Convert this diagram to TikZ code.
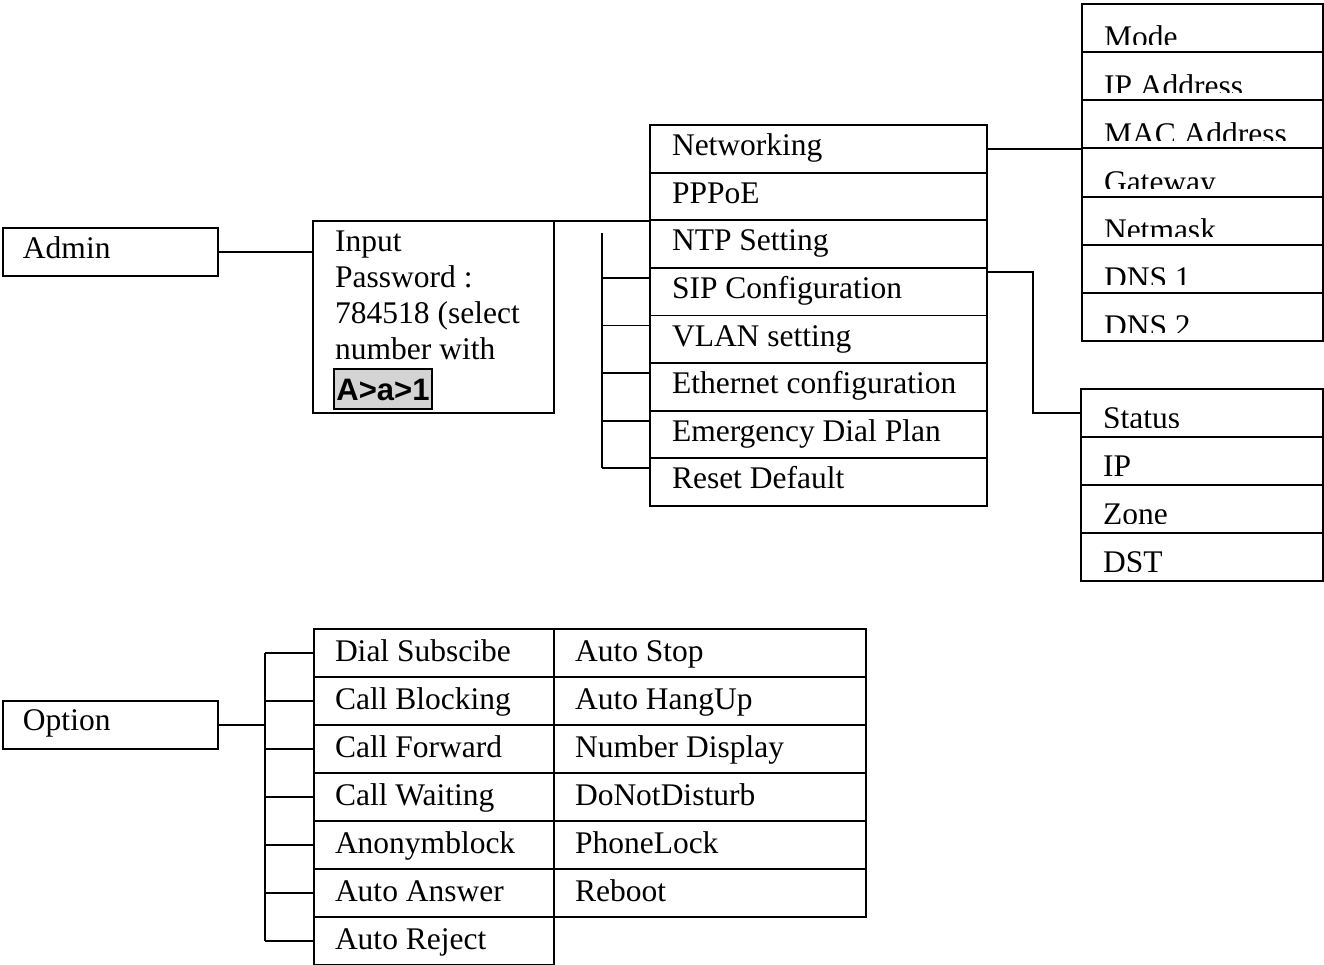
\documentclass[tikz,border=0pt]{standalone}
\usepackage{fontspec}
\setmainfont{Liberation Serif}
\newfontfamily\keyfont{Liberation Sans}
\newcommand\mainfnt{\fontsize{31.5}{36.3}\selectfont}
\definecolor{keygray}{RGB}{212,212,212}
\tikzset{
  box/.style={draw, line width=1.9pt, inner sep=0pt, outer sep=0pt, anchor=north west},
  lbl/.style={anchor=base west, inner sep=0pt, outer sep=0pt, font=\mainfnt},
  conn/.style={line width=1.9pt},
}
\begin{document}
\begin{tikzpicture}[x=1pt,y=-1pt]
\useasboundingbox (0,0) rectangle (1324,965);

% Admin
\node[box, minimum width=215, minimum height=48] (admin) at (3,228) {};
\node[lbl] (admint) at ([xshift=20pt,yshift=-31pt]admin.north west) {Admin};

% Input password box
\node[box, minimum width=241, minimum height=192] (inp) at (313,221) {};
\node[anchor=north west, inner sep=0pt, font=\mainfnt, align=left] (inpt) at (335,230.2)
  {Input\\Password :\\784518 (select\\number with};
\node[box, fill=keygray, minimum width=98, minimum height=40,
      font={\keyfont\bfseries\fontsize{31}{36}\selectfont},
      text height=22.5pt, text depth=0pt] (key) at (334,369) {A>a>1};

% Networking column
\foreach \t [count=\i from 0] in {Networking,PPPoE,NTP Setting,SIP Configuration,VLAN setting,Ethernet configuration,Emergency Dial Plan,Reset Default}{
  \node[box, minimum width=337, minimum height=47.625] (n\i) at (650,{125+\i*47.625}) {};
  \node[lbl] (n\i t) at ([xshift=22pt,yshift=-30.5pt]n\i.north west) {\t};
}

% Mode box (text clipped as in the reference)
\foreach \t [count=\i from 0] in {Mode,IP Address,MAC Address,Gateway,Netmask,DNS 1,DNS 2}{
  \node[box, minimum width=241, minimum height=48.14] (m\i) at (1082,{4+\i*48.14}) {};
  \begin{scope}
    \clip (m\i.north west) rectangle ([yshift=8pt]m\i.south east);
    \node[lbl] (m\i t) at ([xshift=22pt,yshift=-44pt]m\i.north west) {\t};
  \end{scope}
}

% Status box
\foreach \t [count=\i from 0] in {Status,IP,Zone,DST}{
  \node[box, minimum width=242, minimum height=48] (s\i) at (1081,{389+\i*48}) {};
  \begin{scope}
    \clip (s\i.north west) rectangle ([yshift=10pt]s\i.south east);
    \node[lbl] (s\i t) at ([xshift=22pt,yshift=-39pt]s\i.north west) {\t};
  \end{scope}
}

% Option
\node[box, minimum width=215, minimum height=48] (opt) at (3,701) {};
\node[lbl] (optt) at ([xshift=20pt,yshift=-29.5pt]opt.north west) {Option};

\foreach \t [count=\i from 0] in {Dial Subscibe,Call Blocking,Call Forward,Call Waiting,Anonymblock,Auto Answer,Auto Reject}{
  \node[box, minimum width=240, minimum height=48] (o\i) at (314,{629+\i*48}) {};
  \node[lbl] (o\i t) at ([xshift=21pt,yshift=-32.5pt]o\i.north west) {\t};
}
\foreach \t [count=\i from 0] in {Auto Stop,Auto HangUp,Number Display,DoNotDisturb,PhoneLock,Reboot}{
  \node[box, minimum width=312, minimum height=48] (p\i) at (554,{629+\i*48}) {};
  \node[lbl] (p\i t) at ([xshift=21pt,yshift=-32.5pt]p\i.north west) {\t};
}

% Connectors (Admin)
\draw[conn] (admin.east) -- (admin.east -| inp.west);
\draw[conn] (inp.north east) -- (inp.north east -| n2.west);
\coordinate (brtop) at (602,233);
\foreach \k in {3,...,7}{
  \coordinate (tk\k) at ([yshift=-10pt]n\k.north west);
  \draw[conn] (tk\k) -- (tk\k -| brtop);
}
\draw[conn] (brtop) -- (brtop |- tk7);
\draw[conn] (n0.east) -- (n0.east -| m0.west);
\draw[conn] ([yshift=-4pt]n3.north east) -- ++(46,0) |- (s0.west);

% Connectors (Option)
\coordinate (obr) at (265,725);
\draw[conn] (opt.east) -- (opt.east -| obr);
\foreach \k in {0,...,6}{
  \draw[conn] (o\k.west) -- (o\k.west -| obr);
}
\draw[conn] (o0.west -| obr) -- (o6.west -| obr);
\end{tikzpicture}
\end{document}
